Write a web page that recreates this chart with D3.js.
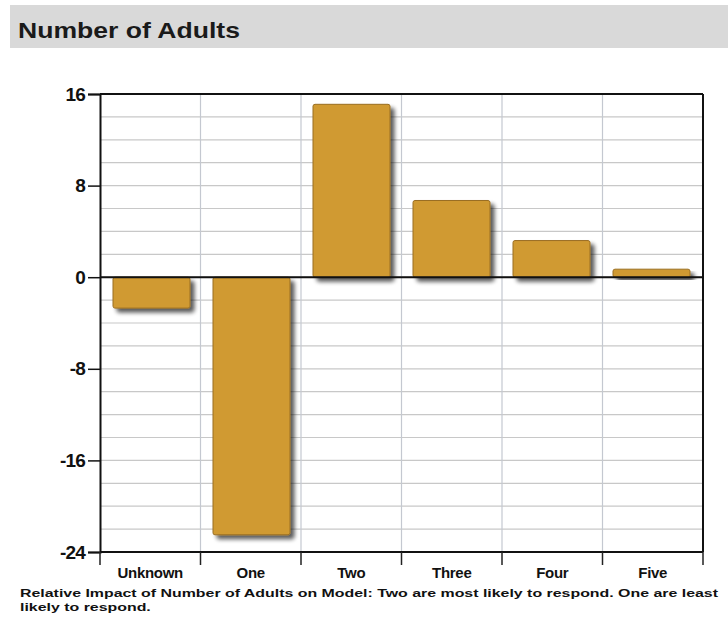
<!DOCTYPE html>
<html>
<head>
<meta charset="utf-8">
<script src="https://cdn.jsdelivr.net/npm/d3@7"></script>
<style>
  html, body { margin: 0; padding: 0; background: #fff; }
  svg { display: block; font-family: "Liberation Sans", Arial, sans-serif; }
</style>
</head>
<body>
<svg id="chart" width="728" height="625"></svg>
<script>
// Relative impact by number of adults in household
const categories = ["Unknown", "One", "Two", "Three", "Four", "Five"];
const impact = [-2.7, -22.5, 15.1, 6.7, 3.2, 0.7];
const yTicks = [16, 8, 0, -8, -16, -24];
const yMinor = d3.range(-24, 17, 2);
const title = "Number of Adults";
const noteLines = [
  "Relative Impact of Number of Adults on Model: Two are most likely to respond. One are least",
  "likely to respond."
];

const svg = d3.select("#chart");
const plot = { left: 100, right: 703, top: 94, bottom: 552 };

// Title band
svg.append("rect").attr("x", 10).attr("y", 5).attr("width", 718).attr("height", 43).attr("fill", "#d9d9d9");
svg.append("text").attr("x", 18).attr("y", 38)
  .attr("font-size", 22).attr("font-weight", "bold").attr("fill", "#1a1a1a")
  .attr("textLength", 222).attr("lengthAdjust", "spacingAndGlyphs")
  .text(title);

const x = d3.scaleBand().domain(categories).range([plot.left, plot.right]).paddingInner(0.23).paddingOuter(0.13);
const xEdges = d3.scaleBand().domain(categories).range([plot.left, plot.right]).padding(0);
const y = d3.scaleLinear().domain([-24, 16]).range([plot.bottom, plot.top]);

// Horizontal grid every 2 units
svg.append("g").selectAll("line").data(yMinor).join("line")
  .attr("x1", plot.left).attr("x2", plot.right)
  .attr("y1", d => y(d)).attr("y2", d => y(d))
  .attr("stroke", "#c8c8c8").attr("stroke-width", 1.2);

// Vertical separators between categories
svg.append("g").selectAll("line").data(categories.slice(1)).join("line")
  .attr("x1", d => xEdges(d)).attr("x2", d => xEdges(d))
  .attr("y1", plot.top).attr("y2", plot.bottom)
  .attr("stroke", "#c4c8d0").attr("stroke-width", 1.2);

// Bar drop shadow
const defs = svg.append("defs");
const f = defs.append("filter").attr("id", "shadow").attr("x", "-20%").attr("y", "-20%").attr("width", "150%").attr("height", "150%");
f.append("feGaussianBlur").attr("in", "SourceAlpha").attr("stdDeviation", 2).attr("result", "blur");
f.append("feOffset").attr("in", "blur").attr("dx", 4).attr("dy", 4).attr("result", "off");
f.append("feComponentTransfer").attr("in", "off").attr("result", "soft")
  .append("feFuncA").attr("type", "linear").attr("slope", 0.65);
const m = f.append("feMerge");
m.append("feMergeNode").attr("in", "soft");
m.append("feMergeNode").attr("in", "SourceGraphic");

svg.append("g").selectAll("rect").data(categories).join("rect")
  .attr("x", d => x(d))
  .attr("width", x.bandwidth())
  .attr("y", (d, i) => y(Math.max(0, impact[i])))
  .attr("height", (d, i) => Math.abs(y(impact[i]) - y(0)))
  .attr("rx", 2)
  .attr("fill", "#d09a32")
  .attr("stroke", "#9a6e22").attr("stroke-width", 1)
  .attr("filter", "url(#shadow)");

// Frame and zero line
const frame = svg.append("g").attr("stroke", "#111").attr("fill", "none");
frame.append("line").attr("x1", plot.left).attr("x2", plot.right).attr("y1", plot.top).attr("y2", plot.top).attr("stroke-width", 2);
frame.append("line").attr("x1", plot.right).attr("x2", plot.right).attr("y1", plot.top).attr("y2", plot.bottom).attr("stroke-width", 2);
frame.append("line").attr("x1", plot.left).attr("x2", plot.right).attr("y1", y(0)).attr("y2", y(0)).attr("stroke-width", 2);

// Y axis
const yAxis = svg.append("g").attr("transform", `translate(${plot.left},0)`)
  .call(d3.axisLeft(y).tickValues(yTicks).tickSize(12).tickPadding(3).tickFormat(d => String(d)));
yAxis.select(".domain").attr("stroke", "#111").attr("stroke-width", 2);
yAxis.selectAll(".tick line").attr("stroke", "#111").attr("stroke-width", 1.5);
yAxis.selectAll(".tick text").attr("font-size", 19).attr("font-weight", "bold").attr("fill", "#111")
  .attr("font-family", "Liberation Sans, Arial, sans-serif").attr("letter-spacing", -0.8);

// X axis at the bottom with ticks at category boundaries
const xAxis = svg.append("g").attr("transform", `translate(0,${plot.bottom})`)
  .call(d3.axisBottom(xEdges).tickSize(0).tickPadding(15));
xAxis.select(".domain").remove();
xAxis.selectAll(".tick text").attr("font-size", 15).attr("font-weight", "bold").attr("fill", "#111")
  .attr("font-family", "Liberation Sans, Arial, sans-serif").attr("letter-spacing", -0.3)
  .attr("dy", "0.71em");
svg.append("line").attr("x1", plot.left).attr("x2", plot.right).attr("y1", plot.bottom).attr("y2", plot.bottom)
  .attr("stroke", "#111").attr("stroke-width", 2);
svg.append("g").selectAll("line").data(categories.map(c => xEdges(c)).concat([plot.right])).join("line")
  .attr("x1", d => d).attr("x2", d => d)
  .attr("y1", plot.bottom).attr("y2", plot.bottom + 13)
  .attr("stroke", "#222").attr("stroke-width", 1.5);

// Footnote, stretched so the first line spans the chart width
const note = svg.append("text").attr("font-size", 11.5).attr("font-weight", "bold").attr("fill", "#111");
const spans = note.selectAll("tspan").data(noteLines).join("tspan")
  .attr("x", 20).attr("y", (d, i) => 597 + i * 13.5)
  .text(d => d);
const widths = spans.nodes().map(n => n.getComputedTextLength());
const stretch = 698 / widths[0];
spans.attr("textLength", (d, i) => widths[i] * stretch).attr("lengthAdjust", "spacingAndGlyphs");
</script>
</body>
</html>
